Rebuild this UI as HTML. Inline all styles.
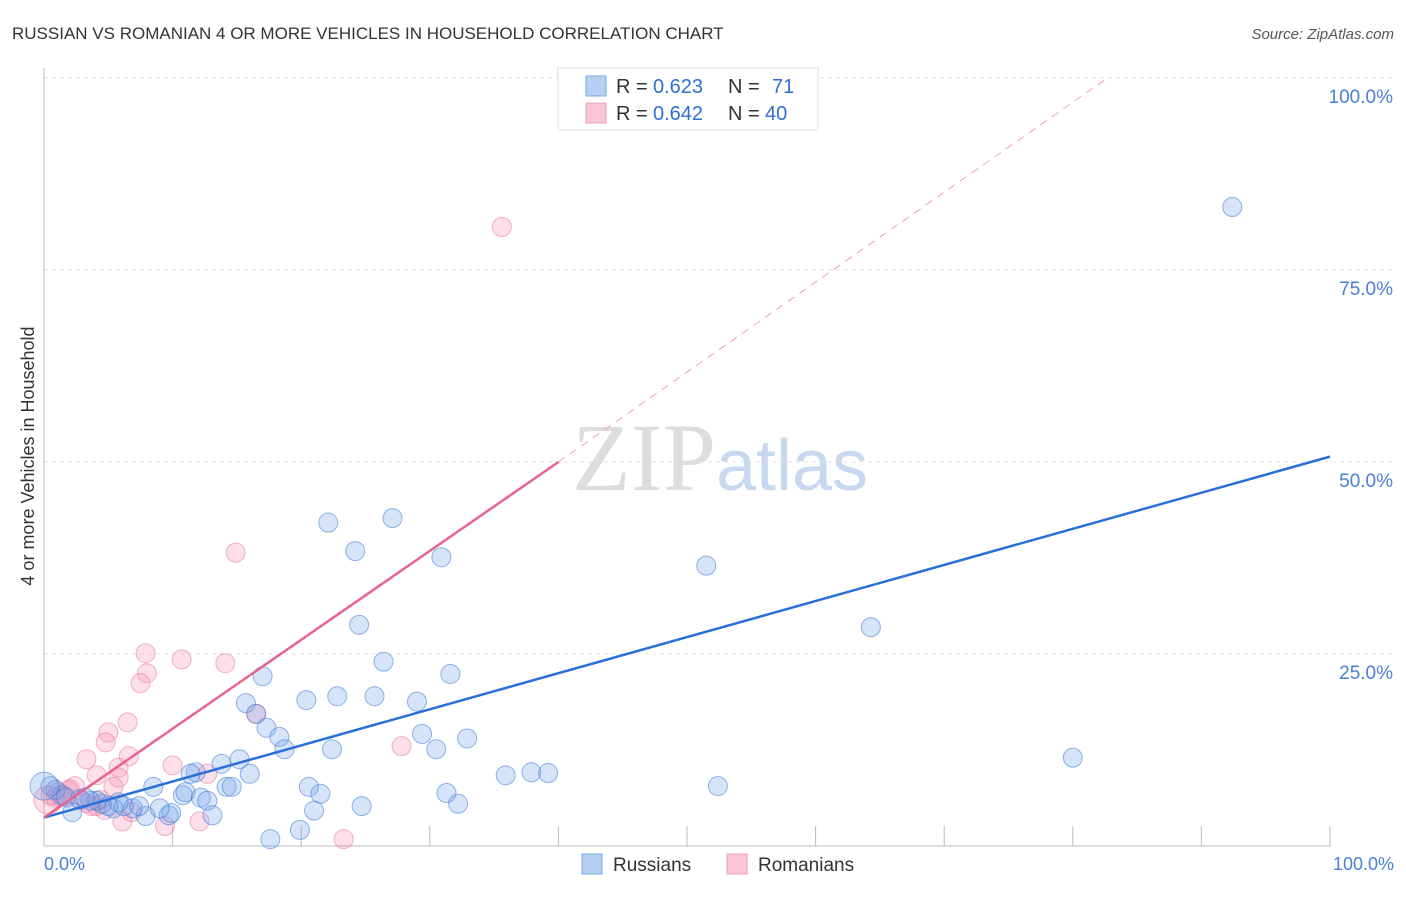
<!DOCTYPE html>
<html><head><meta charset="utf-8"><style>
body{margin:0;background:#fff;font-family:"Liberation Sans",sans-serif}
svg text{font-family:"Liberation Sans",sans-serif}
</style></head><body>
<svg width="1406" height="892" xmlns="http://www.w3.org/2000/svg">
<text x="12" y="39" font-size="17" fill="#333">RUSSIAN VS ROMANIAN 4 OR MORE VEHICLES IN HOUSEHOLD CORRELATION CHART</text>
<text x="1394" y="39" font-size="15" fill="#555" font-style="italic" text-anchor="end">Source: ZipAtlas.com</text>
<text x="720" y="490" font-size="96" text-anchor="middle"><tspan fill="#ddd" font-family="Liberation Serif">ZIP</tspan><tspan fill="#c8d8f0" font-size="72">atlas</tspan></text>
<g id="grid"></g>
<line x1="44" y1="68" x2="44" y2="846" stroke="#bbb"/>
<line x1="44" y1="846" x2="1330" y2="846" stroke="#bbb"/>
<text transform="translate(34,456) rotate(-90)" font-size="18" fill="#333" text-anchor="middle">4 or more Vehicles in Household</text>
<text x="44" y="870" font-size="18" fill="#4a7fd6">0.0%</text>
<text x="1394" y="870" font-size="18" fill="#4a7fd6" text-anchor="end">100.0%</text>
<g id="marks"></g>
<g>
<rect x="558" y="68" width="260" height="62" fill="#fff" stroke="#ddd"/>
<rect x="586" y="76" width="20" height="20" fill="#b7d0f4" stroke="#7aa6e6"/>
<rect x="586" y="103" width="20" height="20" fill="#f9c6d5" stroke="#ee9fb8"/>
<text x="616" y="93" font-size="20" fill="#333">R =</text><text x="653" y="93" font-size="20" fill="#2f6fd6">0.623</text>
<text x="728" y="93" font-size="20" fill="#333">N =</text><text x="772" y="93" font-size="20" fill="#2f6fd6">71</text>
<text x="616" y="120" font-size="20" fill="#333">R =</text><text x="653" y="120" font-size="20" fill="#2f6fd6">0.642</text>
<text x="728" y="120" font-size="20" fill="#333">N =</text><text x="765" y="120" font-size="20" fill="#2f6fd6">40</text>
</g>
<g><rect x="582" y="854" width="20" height="20" fill="#b7d0f4" stroke="#7aa6e6"/><text x="613" y="871" font-size="19" fill="#333">Russians</text></g>
<g><rect x="727" y="854" width="20" height="20" fill="#f9c6d5" stroke="#ee9fb8"/><text x="758" y="871" font-size="19" fill="#333">Romanians</text></g>
</svg>
<script>
const yTicks=[25,50,75,100];
const yTickLabels=["25.0%","50.0%","75.0%","100.0%"];
const xTicks=[10,20,30,40,50,60,70,80,90,100];
const russiansX=[92.4,51.5,64.3,80,52.4,22.1,27.1,24.2,30.9,24.5,26.4,31.6,17,20.4,22.8,25.7,29,15.7,16.5,17.3,18.3,18.7,22.4,29.4,30.5,32.9,35.9,37.9,39.2,15.2,13.8,16,11.8,11.4,8.5,10.8,11,12.2,12.7,14.2,14.6,20.6,21.5,31.3,32.2,24.7,21,13.1,9.7,9.9,7.9,6.9,6.2,5.4,4.5,4.1,3.6,2.8,2.2,1.4,0.9,0.5,17.6,19.9,9,7.4,5.8,5,3.2,1.7,0];
const russiansY=[83.2,36.5,28.5,11.5,7.8,42.1,42.7,38.4,37.6,28.8,24,22.4,22.1,19,19.5,19.5,18.8,18.6,17.2,15.4,14.2,12.6,12.6,14.6,12.6,14,9.2,9.6,9.5,11.3,10.7,9.4,9.6,9.4,7.7,6.6,7,6.3,5.9,7.7,7.7,7.7,6.8,6.9,5.5,5.2,4.6,4.0,4.0,4.3,3.9,4.9,5.2,4.9,5.5,5.9,5.9,6.1,4.4,6.6,7.3,7.8,0.9,2.1,4.9,5.2,5.7,5.2,6.3,6.3,7.8];
const romaniansX=[35.6,14.9,7.9,10.7,14.1,8,7.5,6.5,5,4.8,6.6,3.3,10,5.8,5.8,4.1,12.7,27.8,16.5,5.4,2.4,1.1,1.6,0.3,4.4,4.7,3.7,2.8,1.9,6.1,6.8,9.4,12.1,23.3,1.2,0.5,3.3,4.1,2,0.9];
const romaniansY=[80.6,38.2,25.1,24.3,23.8,22.5,21.2,16.1,14.8,13.5,11.7,11.3,10.5,10.2,8.9,9.2,9.4,13,17.2,7.7,7.8,7,6.5,6,6,4.7,5.2,6,7.2,3.2,4.4,2.6,3.2,0.9,6.5,6.6,5.6,5.2,7.4,6.3];
const X=v=>44+v*12.86, Y=v=>846-v*7.68;
const ns="http://www.w3.org/2000/svg";
const grid=document.getElementById('grid'), marks=document.getElementById('marks');
function mk(t,a,p){const e=document.createElementNS(ns,t);for(const k in a)e.setAttribute(k,a[k]);p.appendChild(e);return e;}
yTicks.forEach((t,i)=>{
 const l=mk('line',{x1:44,x2:1395,y1:Y(t),y2:Y(t),stroke:'#e2e2e2','stroke-dasharray':'4,4'},grid);
 
 
 const tx=mk('text',{x:1393,y:Y(t)+25,'font-size':19,fill:'#4a7fd6','text-anchor':'end'},grid);
 tx.textContent=yTickLabels[i];
 
 
});
xTicks.forEach(t=>{
 const l=mk('line',{x1:X(t),x2:X(t),y1:826,y2:846,stroke:'#bbb'},grid);
 
 
});
function dots(xs,ys,fill,stroke,name){xs.forEach((x,i)=>{
 const c=mk('circle',{cx:X(x),cy:Y(ys[i]),r:(x<0.5?14:9.5),fill:fill,stroke:stroke,'stroke-width':1},marks);
 
 
});}
dots(romaniansX,romaniansY,'rgba(244,150,180,0.3)','rgba(232,120,155,0.55)','romanian-point');
dots(russiansX,russiansY,'rgba(120,165,235,0.3)','rgba(60,120,215,0.55)','russian-point');
let l;
l=mk('line',{x1:X(0),y1:Y(3.7),x2:X(100),y2:Y(50.7),stroke:'#2a6fd8','stroke-width':2.5},marks);


l=mk('line',{x1:X(0),y1:Y(3.7),x2:X(40),y2:Y(50),stroke:'#e8648f','stroke-width':2.5},marks);


l=mk('line',{x1:X(40),y1:Y(50),x2:X(82.7),y2:Y(100),stroke:'#f0a0b8','stroke-width':1,'stroke-dasharray':'8,6'},marks);


</script>
</body></html>
